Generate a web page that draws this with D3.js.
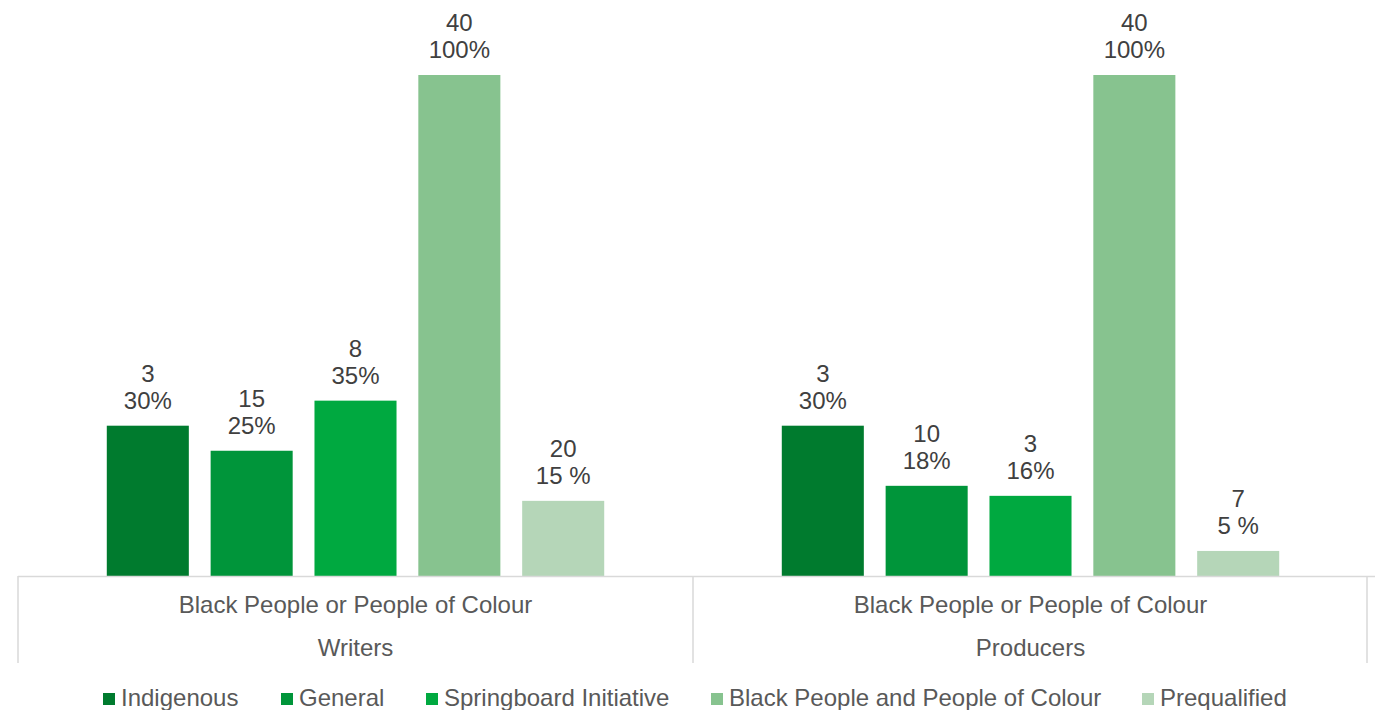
<!DOCTYPE html>
<html><head><meta charset="utf-8">
<script src="https://cdn.jsdelivr.net/npm/d3@7"></script>
<style>body{margin:0;background:#fff}svg{display:block}text{font-family:Arial,"Liberation Sans",sans-serif}</style>
</head><body><svg id="c" width="1375" height="710"></svg>
<script>
const groups = ["Writers", "Producers"];
const groupSubLabel = "Black People or People of Colour";
const series = ["Indigenous", "General", "Springboard Initiative", "Black People and People of Colour", "Prequalified"];
const colors = ["#007B2E", "#00953A", "#00A940", "#87C38F", "#B5D6B8"];
const writersPct = [30, 25, 35, 100, 15];
const producersPct = [30, 18, 16, 100, 5];
const writersCount = [3, 15, 8, 40, 20];
const producersCount = [3, 10, 3, 40, 7];
const writersPctLabels = ["30%", "25%", "35%", "100%", "15 %"];
const producersPctLabels = ["30%", "18%", "16%", "100%", "5 %"];

(function () {
const pct = [writersPct, producersPct];
const cnt = [writersCount, producersCount];
const pctLab = [writersPctLabels, producersPctLabels];

const svg = d3.select("#c");
const leftX = 18, rightX = 1368, base = 576, topY = 75;
const fs = 24;
const x0 = d3.scaleBand().domain(groups).range([leftX, rightX]).padding(0);
const x1 = d3.scaleBand().domain(series).range([0, x0.bandwidth()]).paddingInner(0.21).paddingOuter(0.855);
const y = d3.scaleLinear().domain([0, 100]).range([base, topY]);

groups.forEach((g, gi) => {
  const gg = svg.append("g").attr("transform", `translate(${x0(g)},0)`);
  series.forEach((s, si) => {
    const v = pct[gi][si];
    gg.append("rect").attr("x", x1(s)).attr("y", y(v)).attr("width", x1.bandwidth()).attr("height", y(0) - y(v)).attr("fill", colors[si]);
    const cx = x1(s) + x1.bandwidth() / 2;
    gg.append("text").attr("x", cx).attr("y", y(v) - 44).attr("text-anchor", "middle").attr("font-size", fs).attr("fill", "#404040").text(cnt[gi][si]);
    gg.append("text").attr("x", cx).attr("y", y(v) - 17).attr("text-anchor", "middle").attr("font-size", fs).attr("fill", "#404040").text(pctLab[gi][si]);
  });
  const cx = x0(g) + x0.bandwidth() / 2;
  svg.append("text").attr("x", cx).attr("y", 613).attr("text-anchor", "middle").attr("font-size", fs).attr("fill", "#595959").text(groupSubLabel);
  svg.append("text").attr("x", cx).attr("y", 656).attr("text-anchor", "middle").attr("font-size", fs).attr("fill", "#595959").text(g);
});

svg.append("line").attr("x1", leftX).attr("x2", 1375).attr("y1", base + 0.5).attr("y2", base + 0.5).attr("stroke", "#D9D9D9").attr("stroke-width", 1.5);
[leftX, x0("Producers"), rightX - 1].forEach(xv => {
  svg.append("line").attr("x1", xv).attr("x2", xv).attr("y1", base).attr("y2", 663).attr("stroke", "#D9D9D9").attr("stroke-width", 1.5);
});

const legX = [103, 281, 426, 711, 1142];
series.forEach((s, i) => {
  svg.append("rect").attr("x", legX[i]).attr("y", 693).attr("width", 12).attr("height", 12).attr("fill", colors[i]);
  svg.append("text").attr("x", legX[i] + 18).attr("y", 706).attr("font-size", fs).attr("fill", "#595959").text(s);
});
})();
</script></body></html>
